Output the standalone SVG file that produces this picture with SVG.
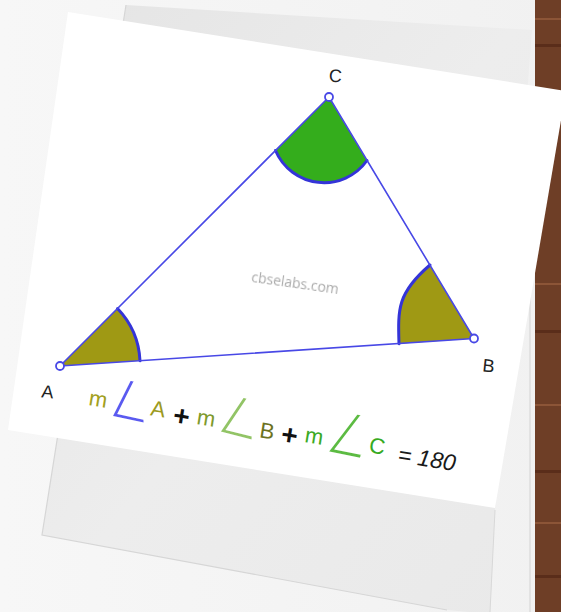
<svg xmlns="http://www.w3.org/2000/svg" width="561" height="612" viewBox="0 0 561 612">
<defs>
  <linearGradient id="cardg" x1="0" y1="0" x2="1" y2="1">
    <stop offset="0" stop-color="#e4e4e4"/>
    <stop offset="0.5" stop-color="#ededed"/>
    <stop offset="1" stop-color="#e9e9e9"/>
  </linearGradient>
  <linearGradient id="bgg" x1="0" y1="0" x2="1" y2="0">
    <stop offset="0" stop-color="#f7f7f7"/>
    <stop offset="1" stop-color="#f1f1f1"/>
  </linearGradient>
  <filter id="soft"><feGaussianBlur stdDeviation="0.5"/></filter>
</defs>
<style>
  .side{stroke:#4848e6;stroke-width:1.6;fill:none;stroke-linecap:round}
  .arc{stroke:#3434d8;stroke-width:3;fill:none;stroke-linecap:round}
  .vtx{fill:#ffffff;stroke:#4848e6;stroke-width:1.8}
  .lbl{font-family:"Liberation Sans",Arial,sans-serif;font-size:18px;fill:#222222}
  .eq{font-family:"Liberation Sans",Arial,sans-serif;font-size:22px}
  .plus{font-family:"Liberation Sans",Arial,sans-serif;font-size:28px;font-weight:bold;fill:#111111}
  .ang{font-family:"DejaVu Sans",sans-serif;font-size:40px;stroke:#ffffff;stroke-width:2}
  .grain{fill:#8c5537}
  .grain2{fill:#5a2d1a}
</style>

<!-- background scene -->
<g id="scene">
  <rect x="0" y="0" width="561" height="612" fill="url(#bgg)"/>
  <rect x="535" y="0" width="26" height="612" fill="#6e3e26"/>
  <rect class="grain" x="535" y="18" width="26" height="2"/>
  <rect class="grain2" x="535" y="44" width="26" height="3"/>
  <rect class="grain" x="535" y="283" width="26" height="2"/>
  <rect class="grain2" x="535" y="330" width="26" height="3"/>
  <rect class="grain" x="535" y="404" width="26" height="2"/>
  <rect class="grain2" x="535" y="470" width="26" height="3"/>
  <rect class="grain" x="535" y="522" width="26" height="2"/>
  <rect class="grain2" x="535" y="575" width="26" height="3"/>
  <line x1="530" y1="250" x2="530" y2="612" stroke="#dcdcdc" stroke-width="1.5"/>
  <polygon points="126,5 532,30 495,510 490,614 447,610 42,535" fill="url(#cardg)"/>
  <polyline points="126,5 42,535 447,610" fill="none" stroke="#d6d6d6" stroke-width="1.2"/>
  <line x1="495" y1="510" x2="490" y2="612" stroke="#d8d8d8" stroke-width="1"/>
  <polygon points="68,12 566,91 495,508 8,430" fill="#ffffff"/>
</g>

<!-- watermark -->
<text x="295" y="288" transform="rotate(8 295 284)" text-anchor="middle" font-family="'Open Sans','DejaVu Sans',sans-serif" font-size="14" fill="#aaaaaa" filter="url(#soft)">cbselabs.com</text>

<!-- angle sectors -->
<g id="angleA">
  <path d="M60,366 L117.5,308.5 A81,81 0 0 1 140,360.7 Z" fill="#9f9914"/>
  <path class="arc" d="M117.5,308.5 A81,81 0 0 1 140,360.7"/>
</g>
<g id="angleB">
  <path d="M474,338.5 L430,265 C397.3,292.8 397.9,309.3 399,343.8 Z" fill="#9f9914"/>
  <path class="arc" d="M430,265 C397.3,292.8 397.9,309.3 399,343.8"/>
</g>
<g id="angleC">
  <path d="M329,97 L275.5,150.5 A52.7,52.7 0 0 0 367,160.5 Z" fill="#34ad1c"/>
  <path class="arc" d="M275.5,150.5 A52.7,52.7 0 0 0 367,160.5"/>
</g>

<!-- triangle sides -->
<g id="connectors">
  <line class="side" x1="60" y1="366" x2="329" y2="97"/>
  <line class="side" x1="329" y1="97" x2="474" y2="338.5"/>
  <line class="side" x1="474" y1="338.5" x2="60" y2="366"/>
</g>

<!-- vertices -->
<g id="vertexA">
  <circle class="vtx" cx="60" cy="366" r="4"/>
  <text class="lbl" x="47" y="398" text-anchor="middle" transform="rotate(6 47 398)">A</text>
</g>
<g id="vertexB">
  <circle class="vtx" cx="474" cy="338.5" r="4"/>
  <text class="lbl" x="488" y="372" text-anchor="middle" transform="rotate(6 488 372)">B</text>
</g>
<g id="vertexC">
  <circle class="vtx" cx="329" cy="97" r="4"/>
  <text class="lbl" x="335" y="82" text-anchor="middle" transform="rotate(4 335 82)">C</text>
</g>

<!-- equation -->
<g id="equation">
  <text class="eq" x="97" y="406.5" text-anchor="middle" fill="#a2a020" transform="rotate(9 97 406.5)">m</text>
  <text class="ang" x="0" y="0" fill="#5a5af0" transform="matrix(1.217 0.261 0.129 1.454 106.8 415.9)">∠</text>
  <text class="eq" x="157" y="416.5" text-anchor="middle" fill="#9c9a1e" transform="rotate(9 157 416.5)">A</text>
  <text class="plus" x="180" y="425.5" text-anchor="middle" transform="rotate(9 180 425.5)">+</text>
  <text class="eq" x="205" y="425.5" text-anchor="middle" fill="#7f9a2c" transform="rotate(9 205 425.5)">m</text>
  <text class="ang" x="0" y="0" fill="#92c466" transform="matrix(1.217 0.304 -0.059 1.438 214.6 431.6)">∠</text>
  <text class="eq" x="266" y="438.5" text-anchor="middle" fill="#6c7222" transform="rotate(9 266 438.5)">B</text>
  <text class="plus" x="288" y="444.5" text-anchor="middle" transform="rotate(9 288 444.5)">+</text>
  <text class="eq" x="313" y="443.5" text-anchor="middle" fill="#3aaa24" transform="rotate(9 313 443.5)">m</text>
  <text class="ang" x="0" y="0" fill="#5cbb42" transform="matrix(1.23 0.243 -0.253 1.509 322.4 451.75)">∠</text>
  <text class="eq" x="376" y="453.5" text-anchor="middle" fill="#36aa22" transform="rotate(9 376 453.5)">C</text>
  <text x="397" y="462" font-family="'Liberation Sans',Arial,sans-serif" font-size="23" font-style="italic" fill="#1a1a1a" transform="rotate(9 397 462)">= 180</text>
</g>
</svg>
